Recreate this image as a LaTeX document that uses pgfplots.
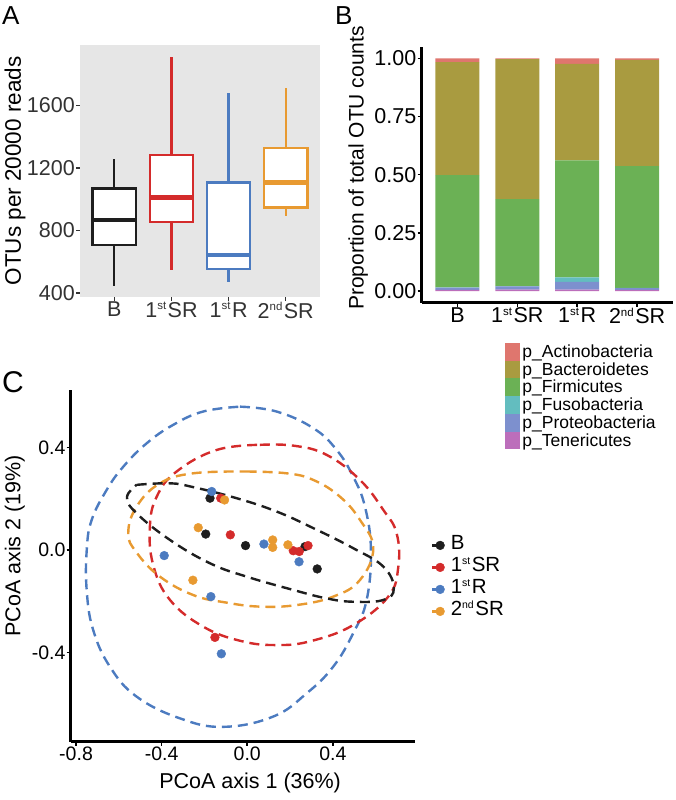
\documentclass[border=0pt]{standalone}
\usepackage{fontspec}
\setmainfont{Liberation Sans}
\usepackage{pgfplots}
\pgfplotsset{compat=1.18}
\definecolor{cBk}{HTML}{1E1E1E}
\definecolor{cRd}{HTML}{D42B2B}
\definecolor{cBl}{HTML}{4C7BC0}
\definecolor{cOr}{HTML}{E89A31}
\definecolor{panelgray}{HTML}{E6E6E6}
\definecolor{labgray}{HTML}{333333}
\definecolor{pAct}{HTML}{DF766E}
\definecolor{pBac}{HTML}{A99B40}
\definecolor{pFir}{HTML}{6BB155}
\definecolor{pFus}{HTML}{63BDBF}
\definecolor{pPro}{HTML}{7D90CE}
\definecolor{pTen}{HTML}{BC6EBB}
\newcommand{\su}[1]{\raisebox{7.5pt}{\fontsize{11.5}{11.5}\selectfont #1}\hspace{1.5pt}}
\newcommand{\sus}[1]{\raisebox{7pt}{\fontsize{10.5}{10.5}\selectfont #1}\hspace{1.5pt}}
\begin{document}
\begin{tikzpicture}
\useasboundingbox (0,0) rectangle (676pt,-800pt);

% ---------- Panel A ----------
\begin{axis}[at={(80pt,-297pt)}, anchor=south west, scale only axis,
  width=240pt, height=252pt,
  xmin=0.4, xmax=4.6, ymin=375, ymax=1987,
  axis background/.style={fill=panelgray}, axis line style={draw=none},
  xtick={1,2,3,4}, xticklabels={B,{1\su{st}SR},{1\su{st}R},{2\su{nd}SR}},
  ytick={400,800,1200,1600}, yticklabels={400,800,1200,1600},
  xtick pos=bottom, ytick pos=left, tick align=outside, major tick length=4pt,
  tick style={line width=1.5pt, color=labgray},
  tick label style={font=\fontsize{21.5}{21.5}\selectfont, text=labgray},
  yticklabel style={inner sep=1pt}, xticklabel style={inner sep=1pt},
  ylabel={OTUs per 20000 reads},
  ylabel style={at={(axis description cs:-0.271,0.5)}, anchor=center, font=\fontsize{22.5}{22.5}\selectfont, text=black},
  every axis plot/.append style={line width=2.3pt, line cap=rect},
]
% B
\addplot[cBk] coordinates {(1,451)(1,707)};
\addplot[cBk] coordinates {(1,1070)(1,1251)};
\addplot[cBk, fill=white] coordinates {(0.62,707)(1.38,707)(1.38,1070)(0.62,1070)(0.62,707)};
\addplot[cBk, line width=4.5pt, line cap=butt] coordinates {(0.62,867)(1.38,867)};
% 1st SR
\addplot[cRd] coordinates {(2,558)(2,856)};
\addplot[cRd] coordinates {(2,1283)(2,1906)};
\addplot[cRd, fill=white] coordinates {(1.62,856)(2.38,856)(2.38,1283)(1.62,1283)(1.62,856)};
\addplot[cRd, line width=4.5pt, line cap=butt] coordinates {(1.62,1012)(2.38,1012)};
% 1st R
\addplot[cBl] coordinates {(3,477)(3,552)};
\addplot[cBl] coordinates {(3,1108)(3,1672)};
\addplot[cBl, fill=white] coordinates {(2.62,552)(3.38,552)(3.38,1108)(2.62,1108)(2.62,552)};
\addplot[cBl, line width=4.5pt, line cap=butt] coordinates {(2.62,643)(3.38,643)};
% 2nd SR
\addplot[cOr] coordinates {(4,899)(4,948)};
\addplot[cOr] coordinates {(4,1326)(4,1704)};
\addplot[cOr, fill=white] coordinates {(3.62,948)(4.38,948)(4.38,1326)(3.62,1326)(3.62,948)};
\addplot[cOr, line width=4.5pt, line cap=butt] coordinates {(3.62,1108)(4.38,1108)};
\end{axis}

% ---------- Panel B ----------
\begin{axis}[at={(421.5pt,-302.7pt)}, anchor=south west, scale only axis,
  width=251.5pt, height=256pt,
  xmin=0.4, xmax=4.6, ymin=-0.05, ymax=1.05,
  ybar stacked, bar width=44pt,
  axis x line*=bottom, axis y line*=left, axis line style={line width=2.5pt, -},
  xtick={1,2,3,4}, xticklabels={B,{1\su{st}SR},{1\su{st}R},{2\su{nd}SR}},
  ytick={0,0.25,0.5,0.75,1}, yticklabels={0.00,0.25,0.50,0.75,1.00},
  tick align=outside, major tick length=4pt,
  tick style={line width=1.5pt, color=black},
  tick label style={font=\fontsize{21.5}{21.5}\selectfont, text=black},
  yticklabel style={inner sep=1pt}, xticklabel style={inner sep=1pt},
  ylabel={Proportion of total OTU counts},
  ylabel style={at={(axis description cs:-0.252,0.526)}, anchor=center, font=\fontsize{21}{21}\selectfont},
  legend style={at={(axis description cs:0.333,-0.157)}, anchor=north west, draw=none, fill=none,
    inner sep=0pt, row sep=0pt, column sep=2pt, font=\fontsize{17.5}{17.5}\selectfont,
    nodes={inner sep=0pt}},
  legend cell align=left, reverse legend,
  legend image code/.code={\fill[#1] (0pt,-8.85pt) rectangle (15pt,8.85pt);},
]
\addplot[fill=pTen, draw=none] coordinates {(1,0.005)(2,0.006)(3,0.006)(4,0.005)};
\addplot[fill=pPro, draw=none] coordinates {(1,0.010)(2,0.014)(3,0.033)(4,0.008)};
\addplot[fill=pFus, draw=none] coordinates {(1,0.001)(2,0.001)(3,0.020)(4,0.001)};
\addplot[fill=pFir, draw=none] coordinates {(1,0.482)(2,0.374)(3,0.503)(4,0.523)};
\addplot[fill=pBac, draw=none] coordinates {(1,0.486)(2,0.602)(3,0.414)(4,0.456)};
\addplot[fill=pAct, draw=none] coordinates {(1,0.016)(2,0.003)(3,0.024)(4,0.007)};
\legend{p\_Tenericutes,p\_Proteobacteria,p\_Fusobacteria,p\_Firmicutes,p\_Bacteroidetes,p\_Actinobacteria}
\end{axis}

% ---------- Panel C ----------
\begin{axis}[at={(70.7pt,-741.7pt)}, anchor=south west, scale only axis,
  width=344.3pt, height=351.7pt,
  xmin=-0.825, xmax=0.784, ymin=-0.748, ymax=0.624,
  axis x line*=bottom, axis y line*=left, axis line style={line width=2.5pt, -},
  xtick={-0.8,-0.4,0,0.4}, xticklabels={-0.8,-0.4,0.0,0.4},
  ytick={-0.4,0,0.4}, yticklabels={-0.4,0.0,0.4},
  tick align=outside, major tick length=4pt,
  tick style={line width=1.5pt, color=black},
  tick label style={font=\fontsize{19.5}{19.5}\selectfont, text=black},
  yticklabel style={inner sep=1pt}, xticklabel style={inner sep=1pt},
  xlabel={PCoA axis 1 (36\%)}, ylabel={PCoA axis 2 (19\%)},
  xlabel style={at={(axis description cs:0.521,-0.118)}, anchor=center, font=\fontsize{21.5}{21.5}\selectfont},
  ylabel style={at={(axis description cs:-0.162,0.557)}, anchor=center, font=\fontsize{21.5}{21.5}\selectfont},
  legend style={at={(axis description cs:1.046,0.590)}, anchor=north west, draw=none, fill=none,
    inner sep=0pt, row sep=0pt, column sep=6pt, font=\fontsize{20.5}{20.5}\selectfont,
    nodes={inner sep=0pt, text height=15pt, text depth=7pt}},
  legend cell align=left,
  every axis plot/.append style={tension=0.7},
]
% ellipses (dashed)
\addplot[forget plot, smooth, cBl, line width=2.4pt, dash pattern=on 10pt off 6pt] coordinates {
(-0.034,0.559)(0.137,0.540)(0.309,0.475)(0.418,0.390)(0.495,0.286)(0.550,0.169)(0.578,0.0)(0.558,-0.195)(0.495,-0.325)(0.402,-0.455)(0.278,-0.559)(0.121,-0.650)(-0.112,-0.690)(-0.314,-0.657)(-0.517,-0.572)(-0.642,-0.455)(-0.720,-0.312)(-0.750,-0.160)(-0.750,0.0)(-0.727,0.117)(-0.657,0.234)(-0.579,0.325)(-0.470,0.416)(-0.346,0.488)(-0.206,0.540)(-0.034,0.559)};
\addplot[forget plot, smooth, cRd, line width=2.4pt, dash pattern=on 10pt off 6pt] coordinates {
(0.059,0.410)(0.215,0.407)(0.371,0.371)(0.527,0.273)(0.636,0.156)(0.698,0.065)(0.706,-0.065)(0.659,-0.182)(0.495,-0.293)(0.300,-0.355)(0.137,-0.371)(-0.030,-0.355)(-0.206,-0.299)(-0.361,-0.195)(-0.439,-0.060)(-0.455,0.090)(-0.423,0.208)(-0.330,0.306)(-0.143,0.390)(0.059,0.410)};
\addplot[forget plot, smooth, cOr, line width=2.4pt, dash pattern=on 10pt off 6pt] coordinates {
(-0.003,0.306)(0.184,0.299)(0.309,0.273)(0.433,0.208)(0.527,0.117)(0.589,0.007)(0.527,-0.117)(0.402,-0.182)(0.230,-0.215)(0.059,-0.221)(-0.100,-0.205)(-0.252,-0.176)(-0.408,-0.104)(-0.517,-0.010)(-0.556,0.065)(-0.517,0.169)(-0.408,0.260)(-0.252,0.299)(-0.003,0.306)};
\addplot[forget plot, smooth, cBk, line width=2.4pt, dash pattern=on 10pt off 6pt] coordinates {
(-0.517,0.254)(-0.361,0.260)(-0.252,0.245)(-0.050,0.202)(0.137,0.150)(0.309,0.085)(0.495,0.007)(0.636,-0.065)(0.685,-0.150)(0.636,-0.195)(0.495,-0.202)(0.371,-0.189)(0.215,-0.156)(-0.003,-0.104)(-0.174,-0.052)(-0.361,0.039)(-0.517,0.143)(-0.562,0.205)(-0.517,0.254)};
% points
\addplot[only marks, mark=*, mark size=4.4pt, color=cBk,
  legend image code/.code={\draw[cBk, line width=2.2pt] (-8pt,0pt) -- (0pt,0pt); \fill[cBk] (0pt,0pt) circle (4.4pt);}]
 coordinates {(-0.174,0.202)(-0.194,0.062)(-0.008,0.017)(0.270,0.013)(0.327,-0.074)};
\addplot[only marks, mark=*, mark size=4.4pt, color=cRd,
  legend image code/.code={\draw[cRd, line width=2.2pt] (-8pt,0pt) -- (0pt,0pt); \fill[cRd] (0pt,0pt) circle (4.4pt);}]
 coordinates {(-0.124,0.202)(-0.079,0.059)(0.215,-0.003)(0.243,-0.006)(0.284,0.017)(-0.151,-0.341)};
\addplot[only marks, mark=*, mark size=4.4pt, color=cBl,
  legend image code/.code={\draw[cBl, line width=2.2pt] (-8pt,0pt) -- (0pt,0pt); \fill[cBl] (0pt,0pt) circle (4.4pt);}]
 coordinates {(-0.166,0.228)(0.078,0.023)(0.242,-0.046)(-0.388,-0.022)(-0.170,-0.182)(-0.121,-0.405)};
\addplot[only marks, mark=*, mark size=4.4pt, color=cOr,
  legend image code/.code={\draw[cOr, line width=2.2pt] (-8pt,0pt) -- (0pt,0pt); \fill[cOr] (0pt,0pt) circle (4.4pt);}]
 coordinates {(-0.106,0.195)(-0.229,0.087)(0.119,0.039)(0.119,0.010)(0.190,0.020)(-0.254,-0.118)};
\legend{B,{1\sus{st}SR},{1\sus{st}R},{2\sus{nd}SR}}
\end{axis}

% panel letters
\node[anchor=base west, inner sep=0pt, font=\fontsize{26}{26}\selectfont] at (2pt,-25pt) {A};
\node[anchor=base west, inner sep=0pt, font=\fontsize{26}{26}\selectfont] at (335pt,-25pt) {B};
\node[anchor=base west, inner sep=0pt, font=\fontsize{30}{30}\selectfont] at (2pt,-392pt) {C};
\end{tikzpicture}
\end{document}
